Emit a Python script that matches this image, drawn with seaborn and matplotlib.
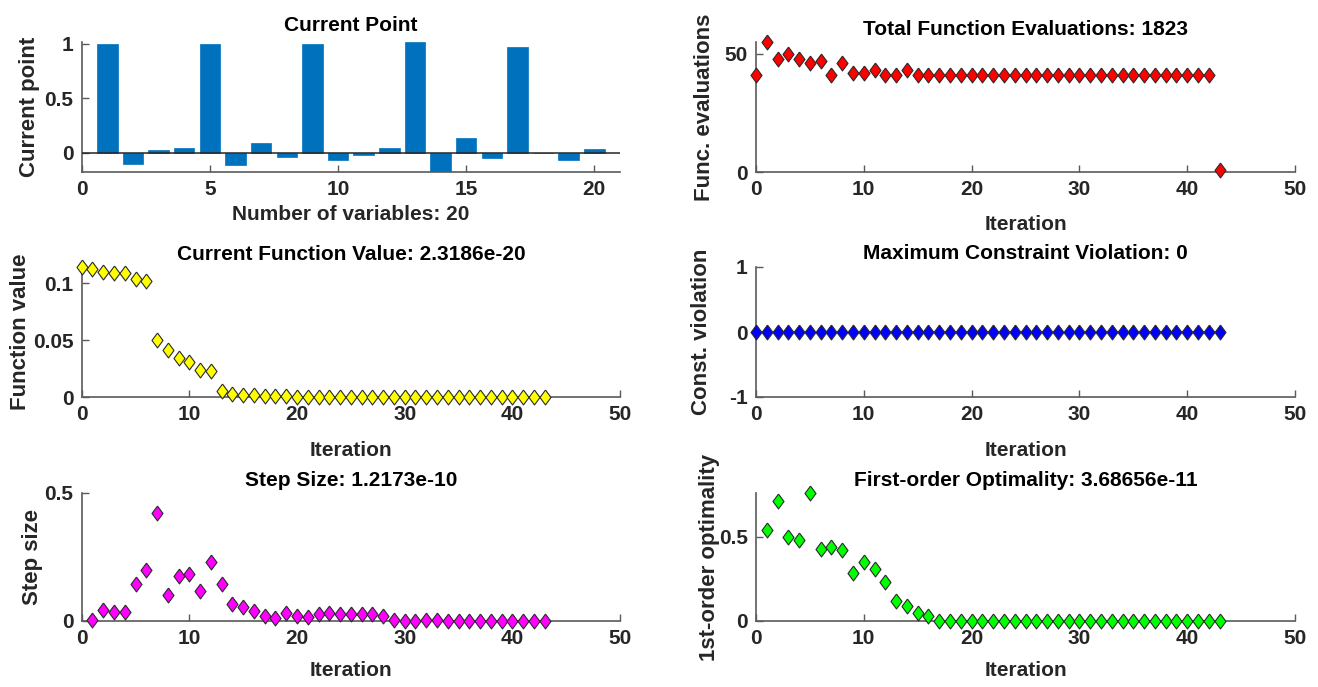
import matplotlib
matplotlib.use("Agg")
import matplotlib.pyplot as plt
import matplotlib.ticker as mticker
import seaborn as sns
import pandas as pd

# ---------------- data ----------------
variables = list(range(1, 21))
current_point = [1.0, -0.098, 0.03, 0.046, 1.0, -0.113, 0.091, -0.04, 0.994, -0.064,
                 -0.018, 0.043, 1.015, -0.17, 0.138, -0.043, 0.966, 0.0, -0.064, 0.04]

iterations = list(range(0, 44))
func_evals = [41, 55, 48, 50, 48, 46, 47, 41, 46, 42, 42, 43, 41, 41, 43,
              41, 41, 41, 41, 41, 41, 41, 41, 41, 41, 41, 41, 41, 41, 41,
              41, 41, 41, 41, 41, 41, 41, 41, 41, 41, 41, 41, 41, 1]

fvals = [0.1143, 0.1122, 0.1102, 0.1093, 0.1088, 0.1040, 0.1020, 0.0500, 0.0410, 0.0340,
         0.0310, 0.0235, 0.0225, 0.0052, 0.0030, 0.0020, 0.0017, 0.0008, 0.0006, 0.0005,
         0.0004, 0.0003, 0.0003, 0.0002, 0.0002, 0.0001, 0.0001, 0.0001, 0.0, 0.0,
         0.0, 0.0, 0.0, 0.0, 0.0, 0.0, 0.0, 0.0, 0.0, 0.0,
         0.0, 0.0, 0.0, 0.0]

constr_viol = [0.0] * 44

step_iters = list(range(1, 44))
step_sizes = [0.004, 0.043, 0.034, 0.034, 0.143, 0.201, 0.421, 0.101, 0.175, 0.184,
              0.117, 0.231, 0.143, 0.066, 0.055, 0.038, 0.020, 0.010, 0.030, 0.021,
              0.016, 0.026, 0.030, 0.026, 0.026, 0.029, 0.029, 0.021, 0.005, 0.001,
              0.001, 0.005, 0.005, 0.001, 0.001, 0.001, 0.0005, 0.0005, 0.0005, 0.0003,
              0.0002, 0.0001, 0.0001]

opt_iters = list(range(1, 44))
optimality = [0.543, 0.713, 0.498, 0.480, 0.761, 0.427, 0.441, 0.421, 0.283, 0.350,
              0.308, 0.233, 0.121, 0.089, 0.045, 0.032, 0.002, 0.001, 0.001, 0.001,
              0.001, 0.0005, 0.0005, 0.0005, 0.0005, 0.0003, 0.0003, 0.0002, 0.0002, 0.0001,
              0.0001, 0.0001, 0.0001, 0.0, 0.0, 0.0, 0.0, 0.0, 0.0, 0.0,
              0.0, 0.0, 0.0]

titles = ["Current Point", "Total Function Evaluations: 1823",
          "Current Function Value: 2.3186e-20", "Maximum Constraint Violation: 0",
          "Step Size: 1.2173e-10", "First-order Optimality: 3.68656e-11"]
ylabels = ["Current point", "Func. evaluations", "Function value",
           "Const. violation", "Step size", "1st-order optimality"]

# ---------------- style ----------------
sns.set_theme(style="white")
plt.rcParams['font.family'] = ['Liberation Sans', 'DejaVu Sans']
plt.rcParams['font.weight'] = 'bold'

W, H = 1318, 687
fig = plt.figure(figsize=(W / 100, H / 100), dpi=100)

def box(x0, x1, ytop, ybot):
    return [x0 / W, 1 - ybot / H, (x1 - x0) / W, (ybot - ytop) / H]

LX0, LX1 = 81.7, 620
RX0, RX1 = 756, 1295
rows = [(42, 172), (267, 397), (493, 621)]

axes = []
for (yt, yb) in rows:
    axes.append(fig.add_axes(box(LX0, LX1, yt, yb)))
    axes.append(fig.add_axes(box(RX0, RX1, yt, yb)))

SPINE = '#5a5a5a'
TXT = '#262626'
FS = 15
diamond = [(0, 1), (0.74, 0), (0, -1), (-0.74, 0), (0, 1)]

def style(ax, title, ylabel, xlabel, ylx, xly, tpad):
    for s in ['top', 'right']:
        ax.spines[s].set_visible(False)
    for s in ['left', 'bottom']:
        ax.spines[s].set_color(SPINE)
        ax.spines[s].set_linewidth(1.2)
    ax.tick_params(axis='both', direction='in', length=5, width=1, color=SPINE,
                   labelsize=FS, labelcolor=TXT, pad=6, bottom=True, left=True)
    for lab in ax.get_xticklabels() + ax.get_yticklabels():
        lab.set_fontweight('bold')
    ax.set_title(title, fontsize=FS, fontweight='bold', color='black', pad=tpad)
    ax.set_ylabel(ylabel, fontsize=16, fontweight='bold', color=TXT)
    ax.yaxis.set_label_coords(ylx, 0.5)
    ax.set_xlabel(xlabel, fontsize=FS, fontweight='bold', color=TXT)
    ax.xaxis.set_label_coords(0.5, xly)
    ax.yaxis.set_major_formatter(mticker.FuncFormatter(lambda v, p: f"{v:g}"))
    ax.xaxis.set_major_formatter(mticker.FuncFormatter(lambda v, p: f"{v:g}"))

# --- Current point bar chart ---
ax = axes[0]
df_cp = pd.DataFrame({"var": variables, "val": current_point})
sns.barplot(data=df_cp, x="var", y="val", native_scale=True, color="#0072BD",
            saturation=1, width=0.8, errorbar=None, ax=ax, edgecolor="#0072BD", linewidth=0.5)
ax.axhline(0, color=TXT, lw=1.1, zorder=3)
ax.set_xlim(0, 21)
ax.set_ylim(-0.174, 1.015)
ax.set_xticks([0, 5, 10, 15, 20])
ax.set_yticks([0, 0.5, 1])
style(ax, titles[0], ylabels[0], "Number of variables: 20", -0.077, -0.25, 8)

def scat(ax, x, y, color):
    sns.scatterplot(x=x, y=y, marker=diamond, s=115, color=color, edgecolor='#2a2a2a',
                    linewidth=0.8, ax=ax, clip_on=False, zorder=4, legend=False)

# --- Function evaluations ---
ax = axes[1]
scat(ax, iterations, func_evals, "#FF0000")
ax.set_xlim(0, 50); ax.set_ylim(0, 55)
ax.set_xticks([0, 10, 20, 30, 40, 50]); ax.set_yticks([0, 50])
style(ax, titles[1], ylabels[1], "Iteration", -0.076, -0.33, 5)

# --- Function value ---
ax = axes[2]
scat(ax, iterations, fvals, "#FFFF00")
ax.set_xlim(0, 50); ax.set_ylim(0, 0.1143)
ax.set_xticks([0, 10, 20, 30, 40, 50]); ax.set_yticks([0, 0.05, 0.1])
style(ax, titles[2], ylabels[2], "Iteration", -0.094, -0.335, 5)

# --- Constraint violation ---
ax = axes[3]
scat(ax, iterations, constr_viol, "#0000FF")
ax.set_xlim(0, 50); ax.set_ylim(-1, 1)
ax.set_xticks([0, 10, 20, 30, 40, 50]); ax.set_yticks([-1, 0, 1])
style(ax, titles[3], ylabels[3], "Iteration", -0.082, -0.335, 6)

# --- Step size ---
ax = axes[4]
scat(ax, step_iters, step_sizes, "#FF00FF")
ax.set_xlim(0, 50); ax.set_ylim(0, 0.5)
ax.set_xticks([0, 10, 20, 30, 40, 50]); ax.set_yticks([0, 0.5])
style(ax, titles[4], ylabels[4], "Iteration", -0.072, -0.31, 5)

# --- First-order optimality ---
ax = axes[5]
scat(ax, opt_iters, optimality, "#00FF00")
ax.set_xlim(0, 50); ax.set_ylim(0, 0.761)
ax.set_xticks([0, 10, 20, 30, 40, 50]); ax.set_yticks([0, 0.5])
style(ax, titles[5], ylabels[5], "Iteration", -0.067, -0.31, 5)

fig.savefig("out.png", dpi=100, facecolor="white")
